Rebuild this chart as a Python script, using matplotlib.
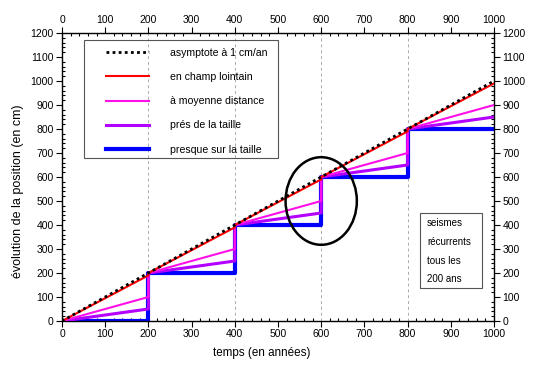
import matplotlib
matplotlib.use("Agg")
import matplotlib.pyplot as plt
from matplotlib.patches import Ellipse, Rectangle
from matplotlib.ticker import MultipleLocator

plt.rcParams['font.family'] = ['Liberation Sans', 'DejaVu Sans']

# data
x_asym = [0, 1000]
y_asym = [0, 1000]
x_steps = [0, 200, 200, 400, 400, 600, 600, 800, 800, 1000]
y_far = [0, 190, 200, 390, 400, 590, 600, 790, 800, 990]
y_mid = [0, 100, 200, 300, 400, 500, 600, 700, 800, 900]
y_near = [0, 50, 200, 250, 400, 450, 600, 650, 800, 850]
y_on = [0, 0, 200, 200, 400, 400, 600, 600, 800, 800]
quake_years = [200, 400, 600, 800]
labels = ["asymptote à 1 cm/an", "en champ lointain", "à moyenne distance",
          "prés de la taille", "presque sur la taille"]
note_lines = ["seismes", "récurrents", "tous les", "200 ans"]

fig = plt.figure(figsize=(5.54, 3.70), dpi=100)
ax = fig.add_axes([62/554, 1-321/370, 432/554, 288/370])

for q in quake_years:
    ax.axvline(q, color='#aaaaaa', lw=0.7, ls=(0, (3, 3)), zorder=0)

h_on, = ax.plot(x_steps, y_on, color='#0000ff', lw=3.0, zorder=2)
h_near, = ax.plot(x_steps, y_near, color='#b400ff', lw=2.2, zorder=3)
h_mid, = ax.plot(x_steps, y_mid, color='#ff10e8', lw=1.5, zorder=4)
h_far, = ax.plot(x_steps, y_far, color='#ff0000', lw=1.5, zorder=5)
h_asym, = ax.plot(x_asym, y_asym, color='black', lw=2.0, ls=(0, (1, 1.2)), zorder=6)

ax.set_xlim(0, 1000)
ax.set_ylim(0, 1200)
ax.xaxis.set_major_locator(MultipleLocator(100))
ax.yaxis.set_major_locator(MultipleLocator(100))
ax.xaxis.set_minor_locator(MultipleLocator(20))
ax.yaxis.set_minor_locator(MultipleLocator(20))
ax.tick_params(which='both', top=True, right=True, labeltop=True, labelright=True,
               labelsize=7.5, width=0.8)
ax.tick_params(which='major', direction='out', length=4, pad=2)
ax.tick_params(which='minor', direction='in', length=2)
for s in ax.spines.values():
    s.set_linewidth(1.0)

ax.set_xlabel("temps (en années)", fontsize=8.4)
ax.xaxis.set_label_coords(0.463, -0.092)
ax.set_ylabel("évolution de la position (en cm)", fontsize=9.0)
ax.yaxis.set_label_coords(-0.088, 0.45)

leg = ax.legend([h_asym, h_far, h_mid, h_near, h_on], labels,
                loc='upper left', bbox_to_anchor=((106 - 62) / 432, (321 - 48) / 288),
                fontsize=7.6, frameon=False,
                handlelength=4.1, handletextpad=2.0, labelspacing=1.34,
                borderpad=0, borderaxespad=0)
ax.add_patch(Rectangle((51, 679), 449, 492, fill=False, edgecolor='#555555', lw=0.8, zorder=7))

ax.add_patch(Ellipse((600, 500), 165, 365, fill=False, edgecolor='black', lw=1.8, zorder=7))

ax.add_patch(Rectangle((829, 137), 143, 313, fill=False, edgecolor='#555555', lw=0.8, zorder=7))
for i, t in enumerate(note_lines):
    ax.text(845, 410 - i * 79, t, fontsize=7, va='center', ha='left', zorder=8)

fig.savefig("out.png", dpi=100)
